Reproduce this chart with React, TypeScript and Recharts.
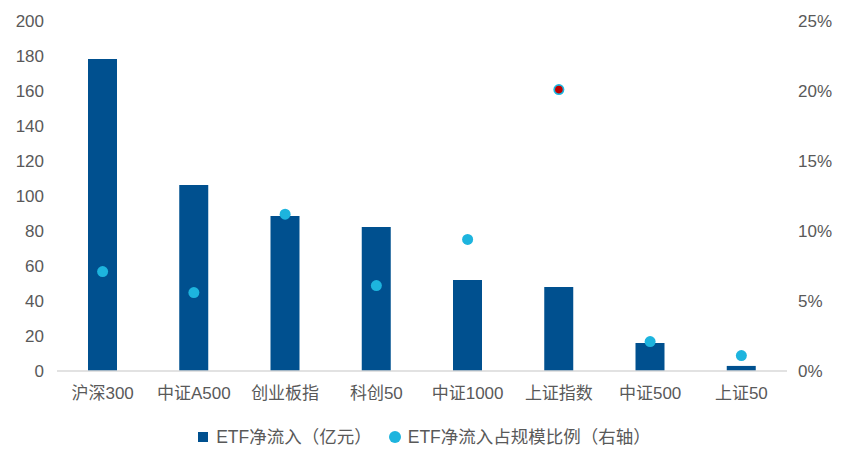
import React from 'react';
import { ComposedChart, Bar, Line, XAxis, YAxis, Legend } from 'recharts';

const categories = ['沪深300', '中证A500', '创业板指', '科创50', '中证1000', '上证指数', '中证500', '上证50'];
const netInflow = [178.3, 106.3, 88.6, 82.3, 52, 48, 16, 2.9];
const ratioPct = [7.1, 5.6, 11.2, 6.1, 9.4, 20.1, 2.1, 1.1];
const leftTicks = [0, 20, 40, 60, 80, 100, 120, 140, 160, 180, 200];
const rightTicks = [0, 5, 10, 15, 20, 25];
const seriesNames = ['ETF净流入（亿元）', 'ETF净流入占规模比例（右轴）'];
const highlightIndex = 5;

const data = categories.map((c, i) => ({ name: c, inflow: netInflow[i], ratio: ratioPct[i] }));

const BAR = '#00508F';
const DOT = '#1DB4DE';
const FONT = "'Liberation Sans', Arial, 'Noto Sans CJK SC', sans-serif";

const Dot = (props: any) => {
  const { cx, cy, index } = props;
  if (cx == null || cy == null) return null;
  if (index === highlightIndex) {
    return (
      <g>
        <circle cx={cx} cy={cy} r={5.5} fill={DOT} />
        <circle cx={cx} cy={cy} r={3.8} fill="#C00000" />
      </g>
    );
  }
  return <circle cx={cx} cy={cy} r={5.5} fill={DOT} />;
};

const LegendContent = () => (
  <div style={{ display: 'flex', justifyContent: 'center', alignItems: 'center', fontFamily: FONT, fontSize: 17.5, color: '#595959', lineHeight: '20px' }}>
    <span style={{ display: 'inline-block', width: 10, height: 10, background: BAR, marginRight: 8 }} />
    <span style={{ marginRight: 17 }}>{seriesNames[0]}</span>
    <span style={{ display: 'inline-block', width: 12, height: 12, borderRadius: '50%', background: DOT, marginRight: 7 }} />
    <span>{seriesNames[1]}</span>
  </div>
);

export default function App() {
  return (
    <div style={{ position: 'absolute', left: 0, top: 0, width: 849, height: 465, background: '#fff' }}>
      <ComposedChart width={849} height={465} data={data} margin={{ top: 21, right: 0, left: 0, bottom: 44 }}>
        <XAxis
          dataKey="name"
          axisLine={{ stroke: '#D9D9D9', strokeWidth: 1.5 }}
          tickLine={false}
          height={30}
          tick={{ fill: '#595959', fontSize: 17, fontFamily: FONT }}
          tickMargin={10}
          interval={0}
        />
        <YAxis
          yAxisId="left"
          width={57}
          domain={[0, 200]}
          ticks={leftTicks}
          axisLine={false}
          tickLine={false}
          tickMargin={7}
          tick={{ fill: '#595959', fontSize: 17, fontFamily: FONT }}
        />
        <YAxis
          yAxisId="right"
          orientation="right"
          width={62}
          domain={[0, 25]}
          ticks={rightTicks}
          tickFormatter={(v: number) => `${v}%`}
          axisLine={false}
          tickLine={false}
          tickMargin={5}
          tick={{ fill: '#595959', fontSize: 17, fontFamily: FONT, textAnchor: 'start' }}
        />
        <Bar yAxisId="left" dataKey="inflow" fill={BAR} barSize={29} isAnimationActive={false} />
        <Line
          yAxisId="right"
          dataKey="ratio"
          stroke="none"
          dot={<Dot />}
          activeDot={false}
          isAnimationActive={false}
        />
        <Legend content={<LegendContent />} wrapperStyle={{ top: 427, left: 0, width: 849 }} />
      </ComposedChart>
    </div>
  );
}
